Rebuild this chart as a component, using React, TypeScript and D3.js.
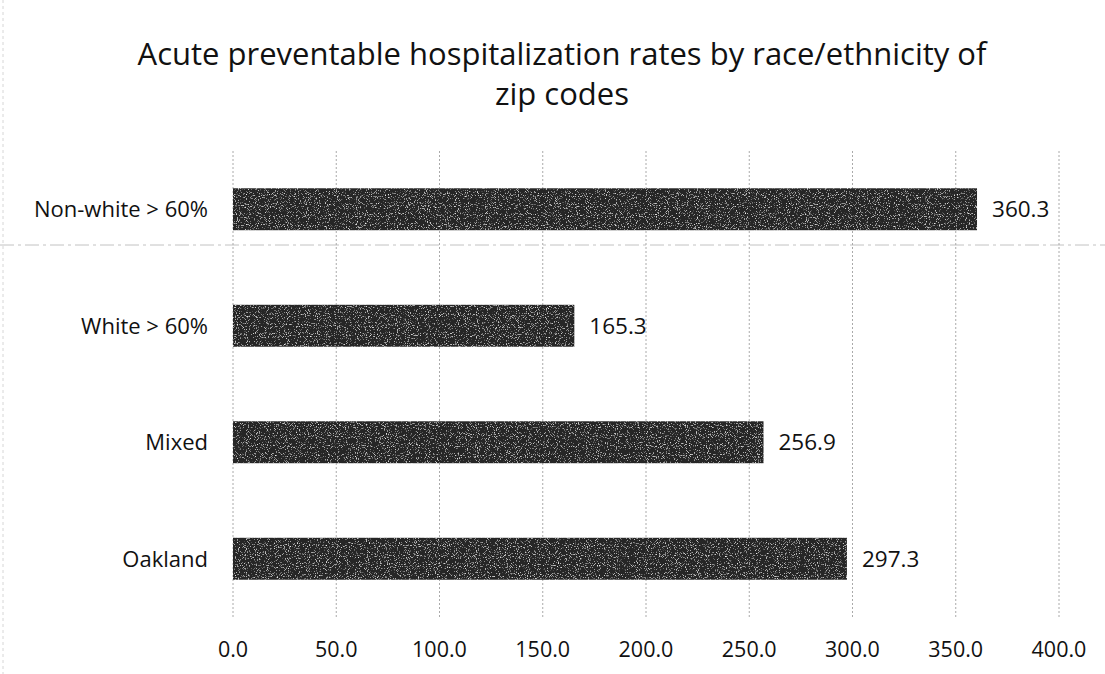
import React from 'react';
import * as d3 from 'd3';

const categories = ['Non-white > 60%', 'White > 60%', 'Mixed', 'Oakland'];
const rates = [360.3, 165.3, 256.9, 297.3];
const tickValues = [0, 50, 100, 150, 200, 250, 300, 350, 400];
const titleLines = ['Acute preventable hospitalization rates by race/ethnicity of', 'zip codes'];

const W = 1105;
const H = 674;
const margin = { top: 151, right: 46, bottom: 57, left: 233 };
const font = '"Open Sans", "DejaVu Sans", sans-serif';

const App: React.FC = () => {
    const innerW = W - margin.left - margin.right;
    const innerH = H - margin.top - margin.bottom;

    const x = d3.scaleLinear().domain([0, 400]).range([0, innerW]);
    const y = d3.scaleBand<string>().domain(categories).range([0, innerH]).paddingInner(0.64).paddingOuter(0.32);

    return (
        <div style={{ position: 'absolute', left: 0, top: 0 }}>
            <svg width={W} height={H} style={{ display: 'block', background: '#fff' }}>
                <defs>
                    <filter id="grain" x="0" y="0" width="100%" height="100%">
                        <feTurbulence type="fractalNoise" baseFrequency="0.9" numOctaves={2} seed={3} result="n" />
                        <feColorMatrix in="n" type="matrix"
                            values="0 0 0 0 1  0 0 0 0 1  0 0 0 0 1  0 0 0 3 -1.75" result="spots" />
                        <feComposite in="spots" in2="SourceGraphic" operator="in" result="clip" />
                        <feMerge>
                            <feMergeNode in="SourceGraphic" />
                            <feMergeNode in="clip" />
                        </feMerge>
                    </filter>
                </defs>

                {/* title */}
                {titleLines.map((t, i) => (
                    <text key={t} x={562} y={65 + i * 40} textAnchor="middle"
                        fontFamily={font} fontSize={31} fill="#111">{t}</text>
                ))}

                {/* scan artifacts: fold line and left edge */}
                <line x1={0} x2={W} y1={245} y2={245} stroke="#999" strokeWidth={1} strokeDasharray="14 4 3 4" opacity={0.6} />
                <line x1={3} x2={3} y1={0} y2={H} stroke="#bbb" strokeWidth={1} strokeDasharray="3 3" opacity={0.6} />

                <g transform={`translate(${margin.left},${margin.top})`}>
                    {/* gridlines */}
                    {tickValues.map(v => (
                        <line key={v} x1={x(v)} x2={x(v)} y1={0} y2={innerH}
                            stroke="#aaa" strokeWidth={1} strokeDasharray="2 2" />
                    ))}

                    {/* bars */}
                    {categories.map((c, i) => (
                        <g key={c}>
                            <rect x={x(0)} y={y(c)} width={x(rates[i]) - x(0)} height={y.bandwidth()}
                                fill="#262626" filter="url(#grain)" />
                            <text x={x(rates[i]) + 15} y={(y(c) || 0) + y.bandwidth() / 2 + 8}
                                fontFamily={font} fontSize={22.5} fill="#111">{rates[i].toFixed(1)}</text>
                            <text x={-25} y={(y(c) || 0) + y.bandwidth() / 2 + 8} textAnchor="end"
                                fontFamily={font} fontSize={22} fill="#111">{c}</text>
                        </g>
                    ))}

                    {/* x tick labels */}
                    {tickValues.map(v => (
                        <text key={v} x={x(v)} y={innerH + 40} textAnchor="middle"
                            fontFamily={font} fontSize={21.5} fill="#111">{v.toFixed(1)}</text>
                    ))}
                </g>
            </svg>
        </div>
    );
};

export default App;
